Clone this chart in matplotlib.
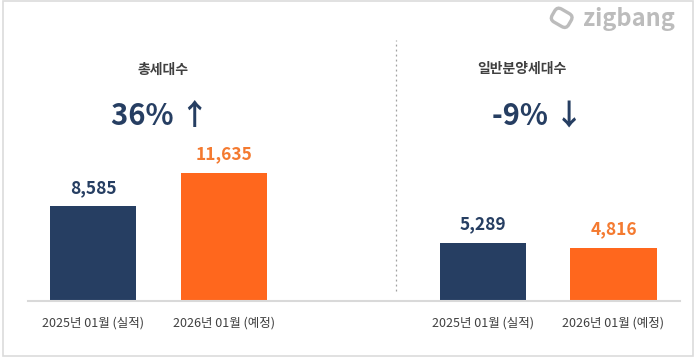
import matplotlib
matplotlib.use("Agg")
import matplotlib.pyplot as plt
import matplotlib.patches as mpatches
import matplotlib.transforms as mtransforms

plt.rcParams['font.family'] = ['Noto Sans CJK KR', 'DejaVu Sans']

# data
categories = ['2025년 01월 (실적)', '2026년 01월 (예정)',
              '2025년 01월 (실적)', '2026년 01월 (예정)']
positions = [0, 1, 2.99, 3.99]
values = [8585, 11635, 5289, 4816]
panel_titles = ['총세대수', '일반분양세대수']
changes = ['36% ↑', '-9% ↓']

NAVY = '#263e62'
ORANGE = '#ff671d'
ORANGE_TXT = '#f47a30'
TEXT = '#404040'

W, H = 698, 362
fig = plt.figure(figsize=(W / 100, H / 100), dpi=100)
fig.patch.set_facecolor('white')


def fx(px):
    return px / W


def fy(py):
    return 1 - py / H


ax = fig.add_axes([fx(28), fy(301), fx(680) - fx(28), fy(40) - fy(301)])
bar_colors = [NAVY, ORANGE, NAVY, ORANGE]
bars = ax.bar(positions, values, width=0.66, color=bar_colors, zorder=2)

for b, v, c in zip(bars, values, [NAVY, ORANGE_TXT, NAVY, ORANGE_TXT]):
    ax.annotate(f'{v:,}', (b.get_x() + b.get_width() / 2, v),
                xytext=(0, 7), textcoords='offset points',
                ha='center', va='bottom', fontsize=12.5, fontweight='bold', color=c)

ax.set_xlim(-0.5, 4.5)
ax.set_ylim(0, 23700)
ax.set_xticks(positions)
ax.set_xticklabels(categories, fontsize=9, color=TEXT, fontweight='medium')
ax.tick_params(axis='x', length=0, pad=11)
ax.set_yticks([])
for s in ['top', 'right', 'left']:
    ax.spines[s].set_visible(False)
ax.spines['bottom'].set_color('#d9d9d9')
ax.spines['bottom'].set_linewidth(1.5)

# dotted divider between the two panels
ax.axvline(2.32, ymin=0.04, ymax=1.0, color='#a0a0a0', lw=0.9,
           linestyle=(0, (1.5, 2.5)), clip_on=False)

# panel titles and change labels
fig.text(fx(163), fy(70), panel_titles[0], ha='center', va='center',
         fontsize=10, fontweight='bold', color=TEXT)
fig.text(fx(522), fy(69), panel_titles[1], ha='center', va='center',
         fontsize=10, fontweight='bold', color=TEXT)
fig.text(fx(160), fy(116), changes[0], ha='center', va='center',
         fontsize=21, fontweight='bold', color=NAVY)
fig.text(fx(538), fy(116), changes[1], ha='center', va='center',
         fontsize=21, fontweight='bold', color=NAVY)

# logo
fig.text(fx(629), fy(19), 'zigbang', ha='center', va='center',
         fontsize=17, fontweight='bold', color='#bcbcbc')
icon = mpatches.FancyBboxPatch((552, H - 25), 19, 15,
                               boxstyle='round,pad=0,rounding_size=5',
                               fill=False, ec='#bcbcbc', lw=2.4,
                               transform=mtransforms.Affine2D().rotate_deg_around(561, H - 18, -30)
                               + mtransforms.IdentityTransform())
fig.patches.append(icon)

# outer frame
frame = mpatches.Rectangle((fx(3), fy(356)), fx(693) - fx(3), fy(1) - fy(356),
                           transform=fig.transFigure, fill=False,
                           ec='#dcdcdc', lw=1.2)
fig.patches.append(frame)

fig.savefig('out.png', dpi=100)
